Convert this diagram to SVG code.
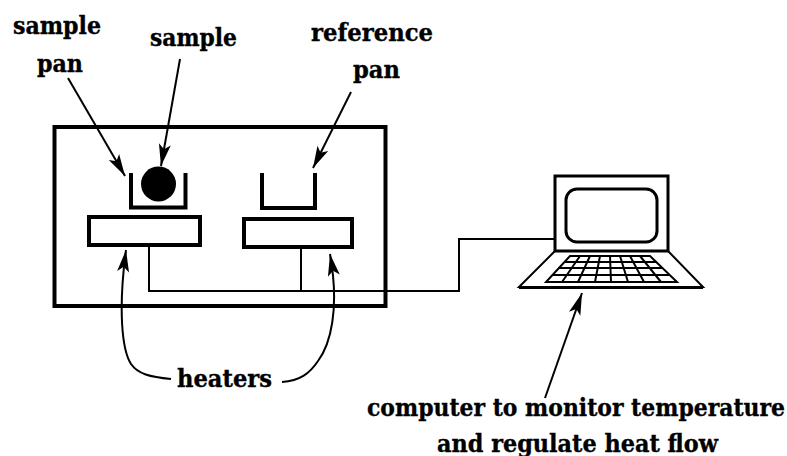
<svg xmlns="http://www.w3.org/2000/svg" width="787" height="456" viewBox="0 0 787 456">
<defs>
<style>
text{font-family:"DejaVu Serif","Liberation Serif",serif;font-weight:bold;fill:#000;font-size:20px;stroke:#000;stroke-width:.3}
.b{fill:none;stroke:#000;stroke-width:4}
.c{fill:none;stroke:#000;stroke-width:2}
.k{fill:none;stroke:#000;stroke-width:2}
</style>
<marker id="ah" markerUnits="userSpaceOnUse" markerWidth="24" markerHeight="18" refX="22" refY="8" orient="auto">
<path d="M0 2 L5 8 L0 14 L22 8 Z" fill="#000"/>
</marker>
</defs>
<rect width="787" height="456" fill="#fff"/>
<g id="enclosure"><rect class="b" x="54.500" y="127" width="331" height="179"/></g>
<g id="sample-pan"><path class="b" d="M131 173V207.500H185.500V173"/></g>
<g id="sample"><circle cx="158.500" cy="184" r="17.500" fill="#000"/></g>
<g id="reference-pan"><path class="b" d="M262 173V208H315V173"/></g>
<g id="heater-left"><rect class="b" x="89" y="217" width="111" height="28"/></g>
<g id="heater-right"><rect class="b" x="244" y="219" width="108" height="28"/></g>
<g id="computer">
<path d="M555 176H668V251H555Z" fill="#fff" stroke="#000" stroke-width="3"/>
<rect x="566" y="189" width="91" height="53" rx="11" fill="none" stroke="#000" stroke-width="3"/>
<path d="M555 251L519 287H703L668 251" fill="none" stroke="#000" stroke-width="2"/>
<path d="M519 287.500H703" stroke="#000" stroke-width="3"/>
<path class="k" d="M570 256H650L677 282H546ZM565 262H657M558 268H663M552 275H670M580 256L562 282M590 256L578 282M600 256L595 282M610 256L611 282M620 256L628 282M630 256L644 282M640 256L661 282"/>
</g>
<g id="connectors">
<path class="c" d="M149 246V291H459V239H555M301 248V291"/>
<path class="c" d="M68 78L125 176" marker-end="url(#ah)"/>
<path class="c" d="M180 59L161 166" marker-end="url(#ah)"/>
<path class="c" d="M351 92L313 168" marker-end="url(#ah)"/>
<path class="c" d="M171 379C150 377 138 374 131 364C122 350 118 310 126 250" marker-end="url(#ah)"/>
<path class="c" d="M282 382C300 381 310 373 318 361C330 345 340 310 330 254" marker-end="url(#ah)"/>
<path class="c" d="M545 398L582 293" marker-end="url(#ah)"/>
</g>
<g id="labels">
<text transform="translate(13 34) scale(1 1.25)" textLength="88" lengthAdjust="spacingAndGlyphs">sample</text>
<text transform="translate(37 72) scale(1 1.25)" textLength="46" lengthAdjust="spacingAndGlyphs">pan</text>
<text transform="translate(150 46) scale(1 1.25)" textLength="87" lengthAdjust="spacingAndGlyphs">sample</text>
<text transform="translate(311 41) scale(1 1.25)" textLength="122" lengthAdjust="spacingAndGlyphs">reference</text>
<text transform="translate(353 78) scale(1 1.25)" textLength="47" lengthAdjust="spacingAndGlyphs">pan</text>
<text transform="translate(177 387) scale(1 1.25)" textLength="95" lengthAdjust="spacingAndGlyphs">heaters</text>
<text transform="translate(367 416) scale(1 1.25)" textLength="418" lengthAdjust="spacingAndGlyphs">computer to monitor temperature</text>
<text transform="translate(437 452) scale(1 1.25)" textLength="281" lengthAdjust="spacingAndGlyphs">and regulate heat flow</text>
</g>
</svg>
